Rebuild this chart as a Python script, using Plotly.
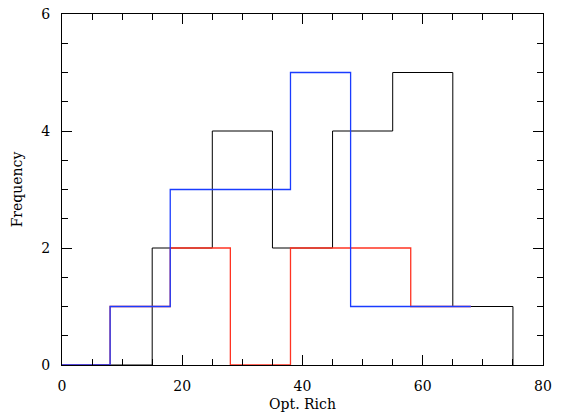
import plotly.graph_objects as go

# Data: bin edges and counts (step histograms)
black_x = [5, 15, 25, 35, 45, 55, 65, 75]
black_y = [0, 2, 4, 2, 4, 5, 1, 0]

red_x = [-2, 8, 18, 28, 38, 48, 58, 68]
red_y = [0, 1, 2, 0, 2, 2, 1, 1]

blue_x = [-2, 8, 18, 28, 38, 48, 58, 68]
blue_y = [0, 1, 3, 3, 5, 1, 1, 1]

x_ticks = [0, 20, 40, 60, 80]
y_ticks = [0, 2, 4, 6]

fig = go.Figure()
fig.add_trace(go.Scatter(x=black_x, y=black_y, mode="lines", line=dict(shape="hv", color="#000000", width=1)))
fig.add_trace(go.Scatter(x=red_x, y=red_y, mode="lines", line=dict(shape="hv", color="#ff3322", width=1.3)))
fig.add_trace(go.Scatter(x=blue_x, y=blue_y, mode="lines", line=dict(shape="hv", color="#1a3cff", width=1.3)))

font = dict(family="DejaVu Serif", size=14, color="#000000")
axis_common = dict(
    showgrid=False, zeroline=False, showline=True, linecolor="#000000", linewidth=1,
    mirror="ticks", ticks="inside", ticklen=10, tickwidth=1, tickcolor="#000000",
    tickfont=font, automargin=False, ticklabelstandoff=8,
)
fig.update_xaxes(range=[0, 80], tickvals=x_ticks, ticktext=[str(v) for v in x_ticks],
                 minor=dict(dtick=5, ticks="inside", ticklen=6, tickcolor="#000000", tickwidth=1),
                 title=dict(text="Opt. Rich", font=font, standoff=6), **axis_common)
fig.update_yaxes(range=[0, 6], tickvals=y_ticks, ticktext=[str(v) for v in y_ticks],
                 minor=dict(dtick=0.5, ticks="inside", ticklen=6, tickcolor="#000000", tickwidth=1),
                 title=dict(text="Frequency", font=font, standoff=15), **axis_common)
fig.update_layout(
    width=568, height=412, showlegend=False,
    margin=dict(l=62, r=25, t=14, b=47),
    plot_bgcolor="#ffffff", paper_bgcolor="#ffffff",
)
fig.write_html("out.html", config={"displayModeBar": False},
               post_script="document.body.style.margin='0px';")
